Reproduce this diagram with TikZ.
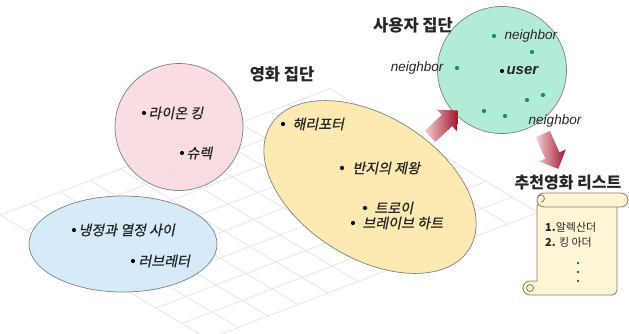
\documentclass[tikz,border=0pt]{standalone}
\usepackage{fontspec}
\setmainfont{Liberation Sans}
\newfontfamily\hangul{Noto Sans CJK KR}
\newfontfamily\hangulit{Noto Sans CJK KR}[FakeSlant=0.2, FakeBold=0.8]
\usetikzlibrary{positioning,shapes.geometric,shapes.arrows}

\definecolor{filmPink}{HTML}{F9D7DC}
\definecolor{filmBlue}{HTML}{CFE8F8}
\definecolor{filmYellow}{HTML}{FBE6A4}
\definecolor{userGreen}{HTML}{A6E9CF}
\definecolor{userTeal}{HTML}{138A86}
\definecolor{ringGray}{HTML}{808080}
\definecolor{gridGray}{HTML}{E8E8E8}
\definecolor{labelDark}{HTML}{262626}
\definecolor{scrollFill}{HTML}{FDF5D6}
\definecolor{scrollLine}{HTML}{8A7A5C}
\definecolor{arrowLight}{HTML}{F4D0D5}
\definecolor{arrowDark}{HTML}{A3152B}

\tikzset{
  moviegroup/.style={ellipse, draw=ringGray, line width=0.7pt, fill=#1, fill opacity=0.85, inner sep=0pt},
  itemdot/.style={circle, fill=#1, inner sep=0pt, minimum size=4.2pt},
  itemdot/.default=black,
  movie/.style={font=\hangulit\fontsize{14}{16}\selectfont, text=labelDark, inner sep=1pt},
  grouptitle/.style={font=\hangul\bfseries\fontsize{16.5}{18}\selectfont, text=labelDark, inner sep=0pt},
  peer/.style={font=\itshape\fontsize{13.5}{15}\selectfont, text=labelDark, inner sep=0pt},
  listitem/.style={font=\hangul\fontsize{11}{13}\selectfont, text=labelDark, inner sep=0pt, anchor=west},
  gridline/.style={draw=gridGray, line width=0.9pt},
  blockarrow/.style={single arrow, draw=none, inner sep=7.5pt, single arrow head extend=7pt, minimum height=38pt, left color=arrowLight, right color=arrowDark},
  scroll/.style={draw=scrollLine, line width=0.8pt, fill=scrollFill, line join=round},
}

\begin{document}
\begin{tikzpicture}[x=1pt, y=-1pt]
\useasboundingbox (0,0) rectangle (629,333);

% floor grid
\begin{scope}[shift={(0,215)}, x={(30pt,11.5pt)}, y={(26pt,-15.5pt)}]
  \foreach \j in {0,...,8} \draw[gridline] (0,\j) -- (11,\j);
  \foreach \i in {0,...,11} \draw[gridline] (\i,0) -- (\i,8);
\end{scope}

% movie clusters
\node[moviegroup=filmPink, minimum width=128pt, minimum height=127pt] (fantasy) at (179,127) {};
\node[moviegroup=filmBlue, minimum width=188pt, minimum height=96pt] (romance) at (123,244) {};
\node[moviegroup=filmYellow, minimum width=234pt, minimum height=142pt, rotate=-32] (epic) at (370,187) {};
\node[grouptitle] (filmtitle) at (282,74) {영화 집단};

\node[itemdot] (lion) at (144,113) {};
\node[movie, right=1pt of lion] (lion-t) {라이온 킹};
\node[itemdot] (shrek) at (182,153) {};
\node[movie, right=1pt of shrek] (shrek-t) {슈렉};
\node[itemdot] (calmo) at (74,230) {};
\node[movie, right=1pt of calmo] (calmo-t) {냉정과 열정 사이};
\node[itemdot] (letter) at (133,261) {};
\node[movie, right=2pt of letter] (letter-t) {러브레터};
\node[itemdot] (potter) at (283,124) {};
\node[movie, right=6pt of potter] (potter-t) {해리포터};
\node[itemdot] (rings) at (342,168) {};
\node[movie, right=7pt of rings] (rings-t) {반지의 제왕};
\node[itemdot] (troy) at (365,208) {};
\node[movie, right=6pt of troy] (troy-t) {트로이};
\node[itemdot] (heart) at (353,223) {};
\node[movie, right=6pt of heart] (heart-t) {브레이브 하트};

% user cluster
\node[moviegroup=userGreen, minimum width=129pt, minimum height=127pt] (users) at (502,70) {};
\node[grouptitle] (usertitle) at (413,25) {사용자 집단};
\node[itemdot] (me) at (502,71) {};
\node[peer, font=\bfseries\itshape\fontsize{15}{17}\selectfont, right=2pt of me] (me-t) {user};
\node[itemdot=userTeal] (nb1) at (494,36) {};
\node[peer, right=8pt of nb1] (nb1-t) {neighbor};
\node[itemdot=userTeal] (nb2) at (457,68) {};
\node[peer, left=11pt of nb2] (nb2-t) {neighbor};
\node[itemdot=userTeal] (nb3) at (532,52) {};
\node[itemdot=userTeal] (nb4) at (543,95) {};
\node[itemdot=userTeal] (nb5) at (527,100) {};
\node[itemdot=userTeal] (nb6) at (484,111) {};
\node[itemdot=userTeal] (nb7) at (505,116) {};
\node[peer] (nb5-t) at (555,121) {neighbor};

% flow arrows
\node[blockarrow, rotate=43] (toUsers) at (441,126) {};
\node[blockarrow, rotate=-66] (toList) at (549,148) {};

% recommendation scroll
\node[grouptitle, font=\hangul\bfseries\fontsize{16}{18}\selectfont] (listtitle) at (568,183) {추천영화 리스트};
\draw[scroll] (537,205) -- (537,281) -- (530,281) arc[start angle=270, end angle=90, radius=7]
  -- (612,295) arc[start angle=90, end angle=0, radius=5] -- (617,205) -- cycle;
\draw[scrollLine, line width=0.8pt] (530,288) circle[radius=3.5];
\draw[scroll, rounded corners=7pt] (537,193) rectangle (628,207);
\draw[scrollLine, line width=0.8pt] (541,202) arc[start angle=90, end angle=-180, radius=3.5];
\node[listitem] (first) at (545,227) {\textbf{1.}알렉산더};
\node[listitem] (second) at (545,242) {\textbf{2.} 킹 아더};
\foreach \k in {0,1,2}
  \fill[labelDark] (578,263+9*\k) circle[radius=1.1];
\end{tikzpicture}
\end{document}
